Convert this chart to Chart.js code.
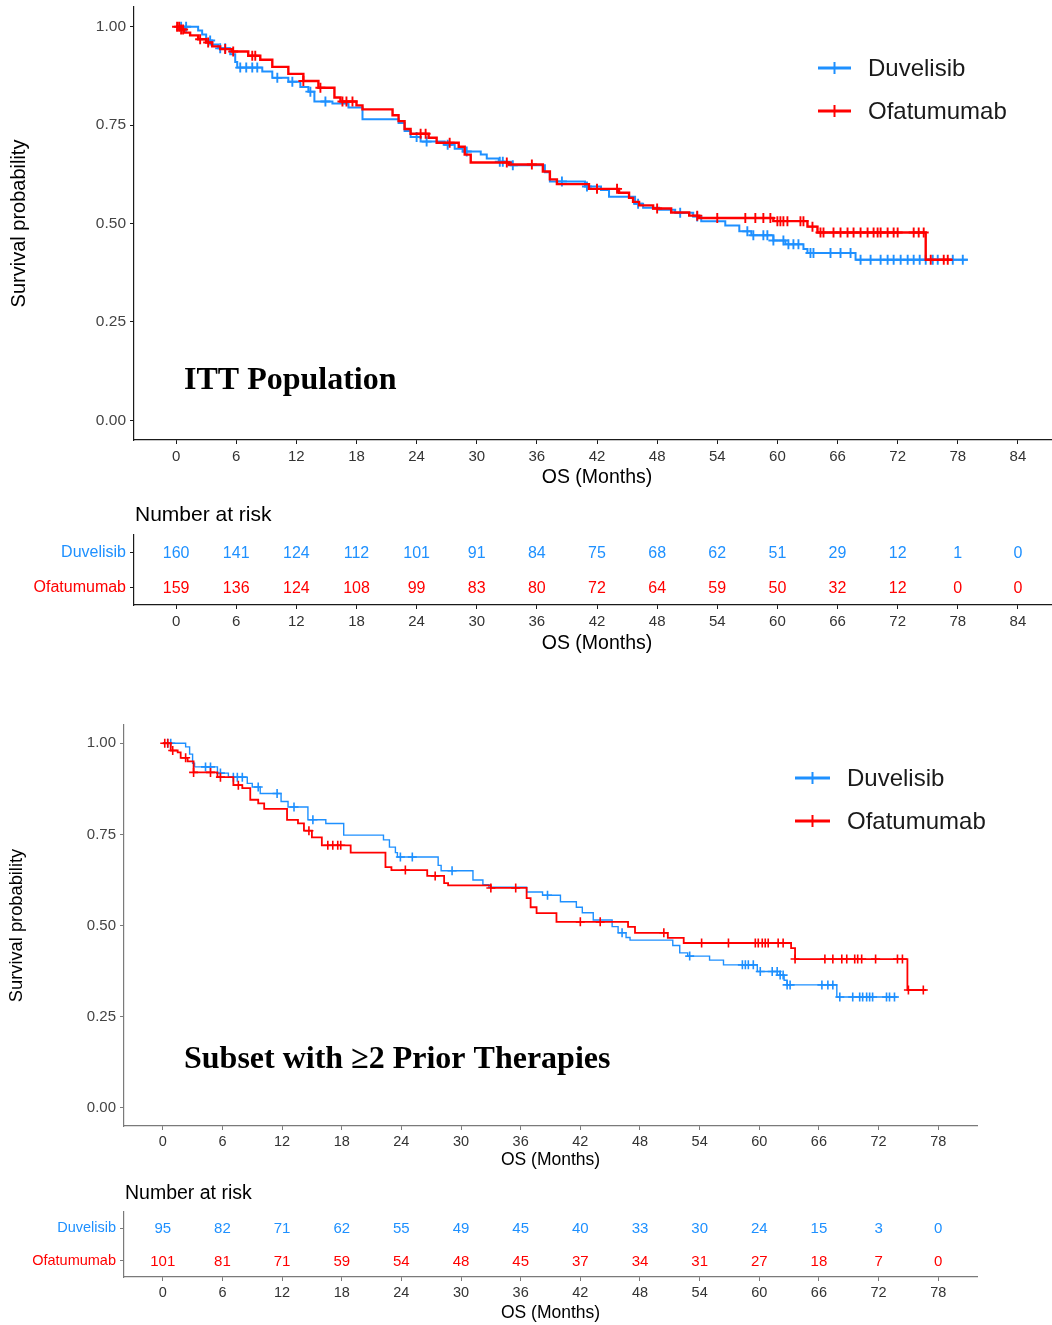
<!DOCTYPE html>
<html>
<head>
<meta charset="utf-8">
<script src="https://cdn.jsdelivr.net/npm/chart.js@4.4.0/dist/chart.umd.min.js"></script>
<style>
  html, body { margin: 0; padding: 0; background: #fff; }
  #page { position: relative; width: 1052px; height: 1325px; overflow: hidden; background: #fff; }
  #page canvas { position: absolute; left: 0; }
</style>
</head>
<body>
<div id="page">
  <canvas id="ittKm" width="1060" height="500" style="top:0px"></canvas>
  <canvas id="ittRisk" width="1060" height="160" style="top:500px"></canvas>
  <canvas id="subKm" width="1052" height="485" style="top:690px"></canvas>
  <canvas id="subRisk" width="1052" height="150" style="top:1175px"></canvas>
</div>
<script>
// ---------- Series names and colours ----------
const seriesNames = ['Duvelisib', 'Ofatumumab'];
const seriesColors = ['#1E90FF', '#FF0000'];

// ---------- Axis ticks ----------
const survTicks = [0, 0.25, 0.5, 0.75, 1];
const ittMonthTicks = [0, 6, 12, 18, 24, 30, 36, 42, 48, 54, 60, 66, 72, 78, 84];
const subMonthTicks = [0, 6, 12, 18, 24, 30, 36, 42, 48, 54, 60, 66, 72, 78];

// ---------- ITT population: Kaplan-Meier steps (month, survival) ----------
const ittDuvMonths = [0, 2.2, 2.6, 3.0, 3.6, 4.2, 5.4, 5.9, 6.1, 8.6, 9.6, 11.2, 12.4, 13.2, 13.8, 15.6, 17.2, 18.6, 22.2, 22.8, 23.4, 24.4, 26.8, 27.8, 28.6, 30.4, 31.0, 32.2, 33.4, 36.8, 37.3, 40.8, 42.4, 43.2, 45.8, 46.6, 48.2, 49.8, 51.6, 52.4, 54.8, 56.2, 57.4, 59.6, 60.8, 62.6, 63.0, 67.8, 79.0];
const ittDuvSurv   = [1.00, 0.99, 0.98, 0.965, 0.955, 0.945, 0.93, 0.91, 0.896, 0.886, 0.87, 0.86, 0.847, 0.835, 0.81, 0.805, 0.795, 0.765, 0.755, 0.735, 0.72, 0.708, 0.70, 0.69, 0.683, 0.675, 0.665, 0.657, 0.648, 0.63, 0.607, 0.594, 0.585, 0.568, 0.55, 0.54, 0.535, 0.527, 0.518, 0.506, 0.495, 0.48, 0.47, 0.457, 0.447, 0.435, 0.425, 0.408, 0.408];
const ittDuvCensored = [0.5, 1, 3.4, 4.4, 4.9, 6.4, 7, 7.6, 8.1, 10.1, 11.6, 13.4, 14.9, 24, 25, 27.1, 29, 32.3, 32.6, 33.6, 38.5, 41, 46.1, 50.3, 52, 57, 57.6, 58.6, 59, 59.6, 60.6, 61.1, 61.6, 62.1, 63.3, 63.6, 65.3, 66.3, 67.3, 68.3, 69.3, 70.3, 71, 71.6, 72.3, 73, 73.6, 74.2, 74.8, 75.5, 76, 77.5, 78.5];

const ittOfaMonths = [0, 0.4, 0.8, 1.4, 2.2, 3.0, 3.6, 4.4, 5.6, 7.2, 8.4, 9.6, 11.2, 12.7, 14.2, 15.8, 16.4, 18.0, 18.6, 21.6, 22.2, 22.8, 23.4, 25.2, 26.0, 28.2, 28.8, 29.4, 33.2, 36.6, 37.3, 38.0, 41.2, 44.2, 45.2, 45.6, 46.2, 47.6, 49.4, 51.2, 52.2, 59.6, 63.0, 64.0, 74.8, 77.4];
const ittOfaSurv   = [1.00, 0.993, 0.985, 0.978, 0.968, 0.96, 0.95, 0.943, 0.937, 0.926, 0.916, 0.898, 0.88, 0.862, 0.845, 0.82, 0.81, 0.80, 0.79, 0.775, 0.76, 0.74, 0.728, 0.718, 0.705, 0.695, 0.675, 0.655, 0.65, 0.632, 0.612, 0.60, 0.588, 0.578, 0.565, 0.555, 0.546, 0.538, 0.528, 0.52, 0.514, 0.506, 0.492, 0.477, 0.408, 0.408];
const ittOfaCensored = [0.1, 0.3, 0.5, 0.7, 2.4, 3.2, 4.9, 5.7, 7.6, 7.9, 12.7, 14.4, 16.6, 17, 17.6, 24.4, 24.9, 27.3, 33, 35.5, 42, 44, 48, 52, 54, 56.8, 57.8, 58.6, 59.3, 60, 60.3, 60.6, 61, 62.3, 62.6, 63.5, 64.3, 64.6, 65.6, 66.3, 67, 67.6, 68.3, 69, 69.6, 70, 70.3, 71, 71.6, 72, 73.6, 74.1, 74.6, 75.3, 76.6, 77];

// ---------- Subset with >=2 prior therapies: Kaplan-Meier steps ----------
const subDuvMonths = [0, 2.3, 2.7, 3.0, 3.2, 5.5, 6.6, 8.5, 9.0, 9.8, 11.9, 12.6, 14.6, 16.4, 18.2, 22.2, 22.8, 23.4, 23.6, 27.7, 28.0, 31.2, 32.2, 32.8, 36.6, 38.2, 40.0, 41.6, 42.2, 43.3, 45.2, 45.8, 46.6, 47.0, 51.3, 52.0, 52.8, 55.0, 56.4, 59.8, 62.1, 62.5, 62.8, 67.8, 73.9];
const subDuvSurv   = [1.00, 0.99, 0.97, 0.945, 0.935, 0.918, 0.907, 0.89, 0.88, 0.862, 0.84, 0.825, 0.79, 0.78, 0.748, 0.735, 0.715, 0.70, 0.688, 0.665, 0.65, 0.625, 0.612, 0.605, 0.592, 0.583, 0.565, 0.55, 0.535, 0.515, 0.497, 0.48, 0.467, 0.46, 0.445, 0.425, 0.416, 0.405, 0.392, 0.374, 0.364, 0.35, 0.337, 0.304, 0.304];
const subDuvCensored = [0.5, 0.8, 4.3, 4.8, 5.8, 7.1, 7.5, 8, 9.6, 11.5, 13.2, 15.1, 23.9, 25.1, 29.1, 38.7, 46.2, 53, 58.3, 58.6, 58.9, 59.4, 60.1, 61.3, 61.8, 62.1, 62.4, 62.8, 63.1, 66.3, 66.9, 67.4, 68.1, 69.4, 70.1, 70.4, 70.8, 71.1, 71.4, 72.8, 73.1, 73.6];

const subOfaMonths = [0, 0.8, 1.5, 1.8, 2.5, 3.1, 5.5, 7.1, 8.0, 8.8, 9.6, 10.2, 12.5, 13.6, 14.2, 15.0, 16.0, 18.9, 22.4, 23.0, 26.6, 28.3, 28.7, 33.0, 36.6, 37.0, 37.6, 39.6, 46.8, 47.5, 50.8, 52.4, 63.2, 63.6, 74.9, 76.8];
const subOfaSurv   = [1.00, 0.98, 0.975, 0.96, 0.95, 0.92, 0.907, 0.885, 0.877, 0.845, 0.835, 0.82, 0.79, 0.78, 0.76, 0.742, 0.72, 0.70, 0.66, 0.652, 0.636, 0.616, 0.61, 0.603, 0.575, 0.55, 0.534, 0.51, 0.496, 0.48, 0.466, 0.452, 0.438, 0.408, 0.323, 0.323];
const subOfaCensored = [0.2, 0.5, 1, 2.3, 3.1, 4.8, 5.8, 7.6, 14.7, 16.6, 17.1, 17.6, 17.9, 24.4, 27.4, 33, 35.5, 42, 44, 50.4, 54.2, 56.9, 59.6, 59.9, 60.3, 60.6, 60.9, 61.9, 62.4, 63.6, 66.6, 67.4, 68.3, 68.8, 69.6, 69.9, 70.3, 71.7, 73.9, 74.4, 75, 76.5];

// ---------- Number at risk ----------
const ittRiskDuv = [160, 141, 124, 112, 101, 91, 84, 75, 68, 62, 51, 29, 12, 1, 0];
const ittRiskOfa = [159, 136, 124, 108, 99, 83, 80, 72, 64, 59, 50, 32, 12, 0, 0];
const subRiskDuv = [95, 82, 71, 62, 55, 49, 45, 40, 33, 30, 24, 15, 3, 0];
const subRiskOfa = [101, 81, 71, 59, 54, 48, 45, 37, 34, 31, 27, 18, 7, 0];

// ---------- Helpers ----------
const SANS = "'Liberation Sans', Arial, sans-serif";
const SERIF = "'Liberation Serif', 'Times New Roman', serif";
Chart.defaults.font.family = SANS;
Chart.defaults.animation = false;

function toPoints(months, surv) {
  return months.map((m, i) => ({ x: m, y: surv[i] }));
}
// A censored subject sits on the curve's current step value.
function censorPoints(months, surv, censored) {
  return censored.map(c => {
    let v = surv[0];
    for (let i = 0; i < months.length; i++) if (months[i] <= c) v = surv[i];
    return { x: c, y: v };
  });
}

// Draws the in-panel legend and the panel heading.
const kmDecor = {
  id: 'kmDecor',
  afterDraw(chart, args, o) {
    const ctx = chart.ctx;
    ctx.save();
    seriesNames.forEach((name, i) => {
      const y = o.legendY + i * o.legendGap;
      ctx.strokeStyle = seriesColors[i];
      ctx.lineWidth = 3;
      ctx.beginPath();
      ctx.moveTo(o.legendX, y);
      ctx.lineTo(o.legendX + o.legendLen, y);
      ctx.stroke();
      ctx.lineWidth = 2;
      const cx = o.legendX + o.legendLen / 2;
      ctx.beginPath();
      ctx.moveTo(cx, y - 6);
      ctx.lineTo(cx, y + 6);
      ctx.stroke();
      ctx.fillStyle = '#1a1a1a';
      ctx.font = '24px ' + SANS;
      ctx.textAlign = 'left';
      ctx.textBaseline = 'middle';
      ctx.fillText(name, o.textX, y + 1);
    });
    ctx.fillStyle = '#000';
    ctx.font = 'bold 32px ' + SERIF;
    ctx.textAlign = 'left';
    ctx.textBaseline = 'middle';
    ctx.fillText(o.heading, o.headingX, o.headingY);
    ctx.restore();
  }
};

// Writes the at-risk counts at each dataset point and the table heading.
const riskText = {
  id: 'riskText',
  afterDatasetsDraw(chart, args, o) {
    const ctx = chart.ctx;
    ctx.save();
    ctx.textAlign = 'center';
    ctx.textBaseline = 'middle';
    ctx.font = o.numFont + 'px ' + SANS;
    chart.data.datasets.forEach((ds, di) => {
      const meta = chart.getDatasetMeta(di);
      ctx.fillStyle = seriesColors[di];
      meta.data.forEach((el, j) => {
        ctx.fillText(String(ds.counts[j]), el.x, el.y + 1);
      });
    });
    ctx.fillStyle = '#000';
    ctx.textAlign = 'left';
    ctx.font = o.headFont + 'px ' + SANS;
    ctx.fillText('Number at risk', chart.chartArea.left + 1, o.headY);
    ctx.restore();
  }
};

function xScale(p) {
  return {
    type: 'linear',
    min: p.min, max: p.max,
    afterBuildTicks: s => { s.ticks = p.ticks.map(v => ({ value: v })); },
    afterFit: s => { s.height = p.height; s.paddingLeft = 0; s.paddingRight = 0; },
    grid: { drawOnChartArea: false, drawTicks: true, tickLength: 4, color: p.axisColor },
    border: { display: true, color: p.axisColor, width: 1.2 },
    ticks: { color: '#333', font: { size: p.tickSize }, padding: p.tickPad, maxRotation: 0, autoSkip: false },
    title: { display: true, text: 'OS (Months)', color: '#000', font: { size: p.titleSize }, padding: { top: 0, bottom: p.titlePad } }
  };
}

function kmChart(id, p) {
  const lw = p.lineWidth;
  return new Chart(document.getElementById(id), {
    type: 'scatter',
    data: {
      datasets: [
        { label: 'Ofatumumab censored', data: censorPoints(p.ofaM, p.ofaS, p.ofaC), showLine: false,
          pointStyle: 'cross', pointRadius: p.cross, borderColor: seriesColors[1], pointBorderWidth: p.crossWidth, backgroundColor: seriesColors[1] },
        { label: 'Ofatumumab', data: toPoints(p.ofaM, p.ofaS), showLine: true, stepped: 'before',
          borderColor: seriesColors[1], borderWidth: lw + 0.4, pointRadius: 0, fill: false },
        { label: 'Duvelisib censored', data: censorPoints(p.duvM, p.duvS, p.duvC), showLine: false,
          pointStyle: 'cross', pointRadius: p.cross, borderColor: seriesColors[0], pointBorderWidth: p.crossWidth, backgroundColor: seriesColors[0] },
        { label: 'Duvelisib', data: toPoints(p.duvM, p.duvS), showLine: true, stepped: 'before',
          borderColor: seriesColors[0], borderWidth: lw, pointRadius: 0, fill: false }
      ]
    },
    options: {
      responsive: false,
      devicePixelRatio: 1,
      events: [],
      layout: { autoPadding: false, padding: { top: p.padTop, right: p.padRight, bottom: 0, left: 0 } },
      plugins: {
        legend: { display: false },
        tooltip: { enabled: false },
        kmDecor: p.decor
      },
      scales: {
        x: xScale(p.x),
        y: {
          type: 'linear',
          min: -0.05, max: 1.05,
          afterBuildTicks: s => { s.ticks = survTicks.map(v => ({ value: v })); },
          afterFit: s => { s.width = p.yWidth; s.paddingTop = 0; s.paddingBottom = 0; },
          grid: { drawOnChartArea: false, drawTicks: true, tickLength: 4, color: p.x.axisColor },
          border: { display: true, color: p.x.axisColor, width: 1.2 },
          ticks: { color: '#444', font: { size: p.yTickSize }, padding: 4, callback: v => v.toFixed(2) },
          title: { display: true, text: 'Survival probability', color: '#000', font: { size: p.yTitleSize }, padding: { top: p.yTitlePad, bottom: 0 } }
        }
      }
    },
    plugins: [kmDecor]
  });
}

function riskChart(id, p) {
  return new Chart(document.getElementById(id), {
    type: 'scatter',
    data: {
      datasets: seriesNames.map((name, i) => ({
        label: name,
        counts: p.counts[i],
        data: p.x.ticks.map(t => ({ x: t, y: name })),
        pointRadius: 0,
        showLine: false
      }))
    },
    options: {
      responsive: false,
      devicePixelRatio: 1,
      events: [],
      layout: { autoPadding: false, padding: { top: p.padTop, right: p.padRight, bottom: 0, left: 0 } },
      plugins: {
        legend: { display: false },
        tooltip: { enabled: false },
        riskText: { numFont: p.numFont, headFont: p.headFont, headY: p.headY }
      },
      scales: {
        x: xScale(p.x),
        y: {
          type: 'category',
          labels: seriesNames,
          offset: true,
          afterFit: s => { s.width = p.yWidth; s.paddingTop = 0; s.paddingBottom = 0; },
          grid: { drawOnChartArea: false, drawTicks: true, tickLength: 4, color: p.x.axisColor, offset: false },
          border: { display: true, color: p.x.axisColor, width: 1.2 },
          ticks: { color: c => seriesColors[c.index], font: { size: p.labelFont }, padding: 4 }
        }
      }
    },
    plugins: [riskText]
  });
}

// ---------- ITT population ----------
const ittX = { min: -4.2, max: 88.2, ticks: ittMonthTicks, axisColor: '#1a1a1a', tickSize: 15, tickPad: 4, titleSize: 19.5 };

kmChart('ittKm', {
  duvM: ittDuvMonths, duvS: ittDuvSurv, duvC: ittDuvCensored,
  ofaM: ittOfaMonths, ofaS: ittOfaSurv, ofaC: ittOfaCensored,
  lineWidth: 2.0, cross: 5, crossWidth: 1.9,
  padTop: 7, padRight: 0, yWidth: 134, yTickSize: 15.5, yTitleSize: 20, yTitlePad: 7,
  x: Object.assign({}, ittX, { height: 60, titlePad: 11 }),
  decor: { legendX: 818, legendLen: 33, legendY: 68, legendGap: 43, textX: 868,
           heading: 'ITT Population', headingX: 184, headingY: 381 }
});

riskChart('ittRisk', {
  counts: [ittRiskDuv, ittRiskOfa],
  padTop: 35, padRight: 0, yWidth: 134, numFont: 16, labelFont: 16, headFont: 21, headY: 15,
  x: Object.assign({}, ittX, { height: 55, titlePad: 5 })
});

// ---------- Subset with >=2 prior therapies ----------
const subX = { min: -3.9, max: 81.9, ticks: subMonthTicks, axisColor: '#7a7a7a', tickSize: 14.5, tickPad: 3, titleSize: 17.5 };

kmChart('subKm', {
  duvM: subDuvMonths, duvS: subDuvSurv, duvC: subDuvCensored,
  ofaM: subOfaMonths, ofaS: subOfaSurv, ofaC: subOfaCensored,
  lineWidth: 1.4, cross: 4.5, crossWidth: 1.6,
  padTop: 35, padRight: 75, yWidth: 124, yTickSize: 15, yTitleSize: 18.3, yTitlePad: 6,
  x: Object.assign({}, subX, { height: 49, titlePad: 4 }),
  decor: { legendX: 795, legendLen: 35, legendY: 88, legendGap: 43, textX: 847,
           heading: 'Subset with \u22652 Prior Therapies', headingX: 184, headingY: 370 }
});

riskChart('subRisk', {
  counts: [subRiskDuv, subRiskOfa],
  padTop: 37, padRight: 75, yWidth: 124, numFont: 15, labelFont: 14.5, headFont: 19.5, headY: 19,
  x: Object.assign({}, subX, { height: 48, titlePad: 1 })
});
</script>
</body>
</html>
